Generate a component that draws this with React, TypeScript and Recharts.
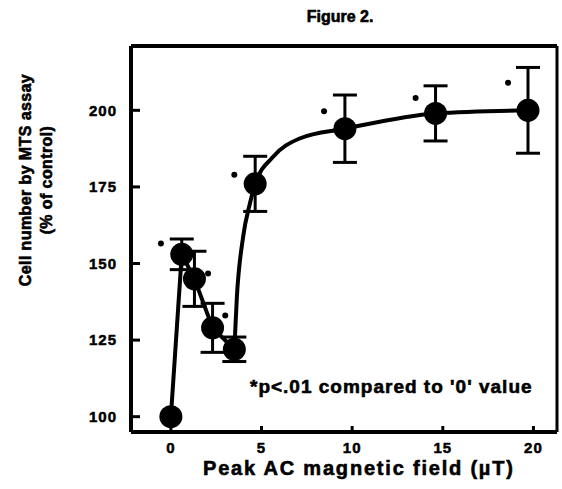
import {
  ComposedChart,
  Line,
  Scatter,
  ErrorBar,
  XAxis,
  YAxis,
  ReferenceLine,
} from "recharts";

// measured points (field in µT, cell number % of control, error)
const fieldValues = [0, 0.6, 1.3, 2.3, 3.5, 4.65, 9.6, 14.6, 19.7];
const cellValues = [100, 153, 145, 129, 122, 176, 194, 199, 200];
const errorValues = [0, 5, 9, 8, 4, 9, 11, 9, 14];

// drawn connecting line, low-field part
const lowLineX = [0, 0.6, 1.3, 2.3, 3.5];
const lowLineY = [100, 153, 145, 129, 122];

// drawn fitted curve, rising part
const curveX = [3.5, 3.64, 3.98, 4.36, 4.65, 5.6, 7.1, 9.6, 14.6, 19.7];
const curveY = [122, 139, 158.5, 169.6, 176, 184.6, 190.8, 194, 199, 200];

// significance markers
const starX = [-0.55, 2.05, 3.0, 3.5, 8.45, 13.5, 18.6];
const starY = [156.5, 146.7, 133, 179, 199.7, 204, 209];

const xTicks = [0, 5, 10, 15, 20];
const yTicks = [100, 125, 150, 175, 200];

const points = fieldValues.map((x, i) => ({ x, y: cellValues[i], err: errorValues[i] }));
const lowLine = lowLineX.map((x, i) => ({ x, y: lowLineY[i] }));
const curve = curveX.map((x, i) => ({ x, y: curveY[i] }));
const stars = starX.map((x, i) => ({ x, y: starY[i] }));

const FONT = "'Liberation Sans', Arial, sans-serif";
const heavy = { fontWeight: "bold" as const, WebkitTextStroke: "0.6px #000" };

const BigDot = (props: any) => <circle cx={props.cx} cy={props.cy} r={11.5} fill="#000" />;
const StarDot = (props: any) => <circle cx={props.cx} cy={props.cy} r={3} fill="#000" />;

const tickStyle = {
  fill: "#000",
  fontSize: 15,
  fontWeight: "bold",
  fontFamily: FONT,
  stroke: "#000",
  strokeWidth: 0.5,
  letterSpacing: 1,
};

export default function App() {
  return (
    <div
      style={{
        position: "absolute",
        left: 0,
        top: 0,
        width: 562,
        height: 489,
        background: "#fff",
        fontFamily: FONT,
      }}
    >
      <div
        style={{
          position: "absolute",
          left: 290,
          top: 8,
          width: 100,
          textAlign: "center",
          fontSize: 16,
          ...heavy,
        }}
      >
        Figure 2.
      </div>
      <div
        style={{
          position: "absolute",
          left: 36,
          top: 180,
          transform: "translate(-50%, -50%) rotate(-90deg)",
          whiteSpace: "nowrap",
          textAlign: "center",
          fontSize: 16,
          letterSpacing: 0.4,
          lineHeight: "21px",
          ...heavy,
        }}
      >
        Cell number by MTS assay
        <br />
        (% of control)
      </div>
      <div
        style={{
          position: "absolute",
          left: 250,
          top: 376,
          whiteSpace: "nowrap",
          fontSize: 19,
          letterSpacing: 1,
          ...heavy,
        }}
      >
        *p&lt;.01 compared to '0' value
      </div>
      <div
        style={{
          position: "absolute",
          left: 203,
          top: 457,
          whiteSpace: "nowrap",
          fontSize: 20,
          letterSpacing: 1.8,
          ...heavy,
        }}
      >
        Peak AC magnetic field (µT)
      </div>
      <ComposedChart
        width={562}
        height={489}
        margin={{ top: 46, right: 5, left: 71, bottom: 27 }}
        style={{ position: "absolute", left: 0, top: 0 }}
      >
        <XAxis
          type="number"
          dataKey="x"
          domain={[-2.2, 21.3]}
          ticks={xTicks}
          height={30}
          axisLine={{ stroke: "#000", strokeWidth: 4 }}
          tickLine={{ stroke: "#000", strokeWidth: 3 }}
          tickSize={-6}
          tickMargin={16}
          tick={tickStyle}
          allowDataOverflow
        />
        <YAxis
          type="number"
          dataKey="y"
          domain={[95, 221]}
          ticks={yTicks}
          width={60}
          axisLine={{ stroke: "#000", strokeWidth: 4 }}
          tickLine={{ stroke: "#000", strokeWidth: 3 }}
          tickSize={-9}
          tickMargin={23}
          tick={tickStyle}
          allowDataOverflow
        />
        <ReferenceLine y={221} stroke="#000" strokeWidth={4} />
        <ReferenceLine x={21.3} stroke="#000" strokeWidth={3} />
        <Line
          data={lowLine}
          dataKey="y"
          type="linear"
          stroke="#000"
          strokeWidth={4}
          dot={false}
          isAnimationActive={false}
        />
        <Line
          data={curve}
          dataKey="y"
          type="monotoneX"
          stroke="#000"
          strokeWidth={4}
          dot={false}
          isAnimationActive={false}
        />
        <Scatter data={points} dataKey="y" shape={BigDot} isAnimationActive={false}>
          <ErrorBar dataKey="err" direction="y" width={12} stroke="#000" strokeWidth={3} />
        </Scatter>
        <Scatter data={stars} dataKey="y" shape={StarDot} isAnimationActive={false} />
      </ComposedChart>
    </div>
  );
}
